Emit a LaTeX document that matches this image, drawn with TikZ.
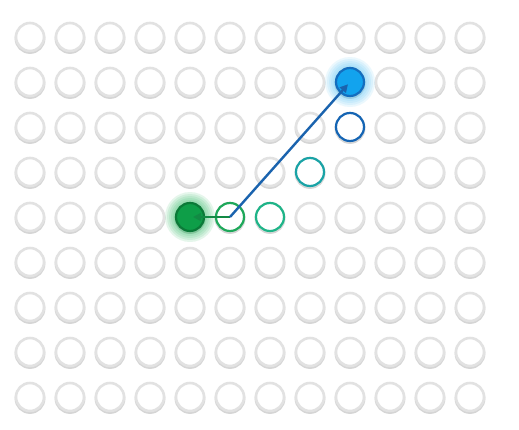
\documentclass[tikz,border=0pt]{standalone}
\usetikzlibrary{arrows.meta}
\definecolor{ringgray}{HTML}{E2E2E2}
\definecolor{shadowgray}{HTML}{CBCBCB}
\definecolor{gfill}{HTML}{0E9E48}
\definecolor{gstroke}{HTML}{0B7A38}
\definecolor{gglow}{HTML}{2DB862}
\definecolor{gring}{HTML}{1EA85A}
\definecolor{tgring}{HTML}{1FB488}
\definecolor{tring}{HTML}{1AA3A6}
\definecolor{bring}{HTML}{1565B4}
\definecolor{bfill}{HTML}{12A3EE}
\definecolor{bstroke}{HTML}{146EBE}
\definecolor{bglow}{HTML}{5CC6F6}
\definecolor{bline}{HTML}{1A63AE}
\definecolor{gline}{HTML}{128A44}
\tikzset{
  dot/.style={circle, inner sep=0pt, minimum size=28pt, draw=ringgray, line width=2.6pt, fill=white},
  dotshadow/.style={circle, inner sep=0pt, minimum size=28pt, draw=shadowgray, line width=2.8pt, opacity=0.8},
  ring/.style={circle, inner sep=0pt, minimum size=28pt, line width=2.2pt, fill=white},
  glowc/.style={circle, inner sep=0pt, fill=#1, opacity=0.12},
  arr/.style={line width=2.4pt, -{Triangle[length=8pt,width=8pt]}}
}
\begin{document}
\begin{tikzpicture}[x=1pt,y=-1pt]
\useasboundingbox[fill=white] (0,0) rectangle (519,429);
% grid
\foreach \i in {0,...,11}{
  \foreach \j in {0,...,8}{
    \node[dotshadow] (s-\i-\j) at ({30+40*\i},{38.5+45*\j}) {};
    \node[dot] (c-\i-\j) at ({30+40*\i},{37+45*\j}) {};
  }
}
% glows
\foreach \r in {17,19,21,23,25}{
  \node[glowc=gglow, minimum size=2*\r pt] (gg\r) at (190,217) {};
  \node[glowc=bglow, minimum size=2*\r pt] (bg\r) at (350,82) {};
}
% special circles
\node[ring, draw=gring] (g5) at (230,217) {};
\node[ring, draw=tgring] (g6) at (270,217) {};
\node[ring, draw=tring] (t7) at (310,172) {};
\node[ring, draw=bring] (b8) at (350,127) {};
\node[ring, draw=gstroke, fill=gfill] (g4) at (190,217) {};
\node[ring, draw=bstroke, fill=bfill] (b1) at (350,82) {};
% connectors
\draw[arr, draw=gline, fill=gline, shorten >=3pt] (g5.center) -- (g4.center);
\draw[arr, draw=bline, fill=bline, shorten >=3pt] (g5.center) -- (b1.center);
\end{tikzpicture}
\end{document}
